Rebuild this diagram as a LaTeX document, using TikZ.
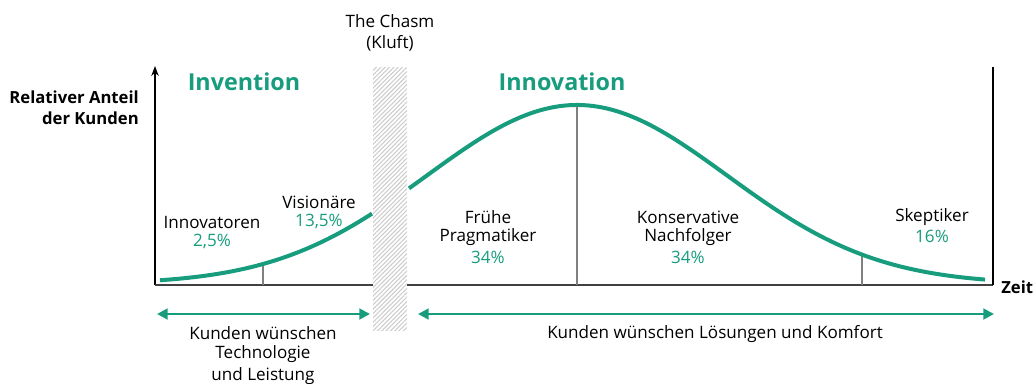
\documentclass[tikz,border=0pt]{standalone}
\usepackage{fontspec}
\setmainfont{Open Sans}
\usetikzlibrary {arrows.meta}
\usetikzlibrary {patterns.meta}
\definecolor{fgreen}{RGB}{23,156,125}

\begin{document}
\begin{tikzpicture}[x=0.75pt, y=-0.75pt, >=Stealth,
    declare function={bell(\t)=284-179*exp(-0.5*((\t-577)/150)*((\t-577)/150));},
    lbl/.style={font=\fontsize{12.8}{14}\selectfont, inner sep=0pt},
    pct/.style={lbl, text=fgreen},
    axlbl/.style={inner sep=0pt, font=\fontsize{12.5}{14}\selectfont\bfseries},
    phase/.style={font=\fontsize{17.5}{20}\selectfont\bfseries, text=fgreen, inner sep=0pt},
    bell/.style={fgreen, line width=3pt},
    split/.style={gray, line width=2pt},
    span/.style={fgreen, line width=2.2pt, {Triangle[length=8pt,width=8pt]}-{Triangle[length=8pt,width=8pt]}}]
    \useasboundingbox (0,0) rectangle (1035,383);

    \coordinate (o) at (155,285);
    \coordinate (ytop) at (155,66);
    \coordinate (cl) at (373,285);
    \coordinate (cr) at (407,285);
    \coordinate (xe) at (993,285);
    \coordinate (xtop) at (993,67);

    % the chasm
    \path[pattern={Lines[angle=45,distance=2.3pt,line width=0.8pt]}, pattern color=gray!40]
        (373,67) rectangle (407,330);

    % axes
    \draw[->, line width=1pt] (o) -- (ytop);
    \draw[black!75, line width=1.2pt] (o) -- (cl);
    \draw[black!75, line width=1.2pt] (cr) -- (xe);
    \draw[line width=1pt] (xe) -- (xtop);

    % group borders
    \coordinate (s1) at (263,{bell(263)});
    \coordinate (s2) at (577,{bell(577)});
    \coordinate (s3) at (862,{bell(862)});
    \draw[split] (263,285) -- (s1);
    \draw[split] (577,285) -- (s2);
    \draw[split] (862,285) -- (s3);

    % adoption curve
    \draw[bell] plot[domain=160:372, samples=60] (\x, {bell(\x)});
    \draw[bell] plot[domain=409:985, samples=120] (\x, {bell(\x)});

    % customers' wishes
    \coordinate (a1) at (157,314);
    \coordinate (a2) at (370,314);
    \coordinate (a3) at (418,314);
    \coordinate (a4) at (994,314);
    \draw[span] (a1) -- (a2);
    \draw[span] (a3) -- (a4);

    \node[lbl] (chasm) at (390,21) {The Chasm};
    \node[lbl] (kluft) at (390,43) {(Kluft)};
    \node[axlbl, anchor=east] (yl1) at (139,97) {Relativer Anteil};
    \node[axlbl, anchor=east] (yl2) at (139,118) {der Kunden};
    \node[axlbl, anchor=west] (zeit) at (1001,287) {Zeit};
    \node[phase] (inv) at (244,82) {Invention};
    \node[phase] (inn) at (562,82) {Innovation};

    \node[lbl] (g1) at (212,222) {Innovatoren};
    \node[pct] (p1) at (212,241) {2,5\%};
    \node[lbl] (g2) at (319,202) {Visionäre};
    \node[pct] (p2) at (319,221) {13,5\%};
    \node[lbl] (g3) at (488,217) {Frühe};
    \node[lbl] (g3b) at (488,237) {Pragmatiker};
    \node[pct] (p3) at (488,257) {34\%};
    \node[lbl] (g4) at (688,217) {Konservative};
    \node[lbl] (g4b) at (688,237) {Nachfolger};
    \node[pct] (p4) at (688,257) {34\%};
    \node[lbl] (g5) at (932,217) {Skeptiker};
    \node[pct] (p5) at (932,236) {16\%};

    \node[lbl] (w1) at (263,333) {Kunden wünschen};
    \node[lbl] (w2) at (263,354) {Technologie};
    \node[lbl] (w3) at (263,376) {und Leistung};
    \node[lbl] (w4) at (715,334) {Kunden wünschen Lösungen und Komfort};
\end{tikzpicture}
\end{document}
